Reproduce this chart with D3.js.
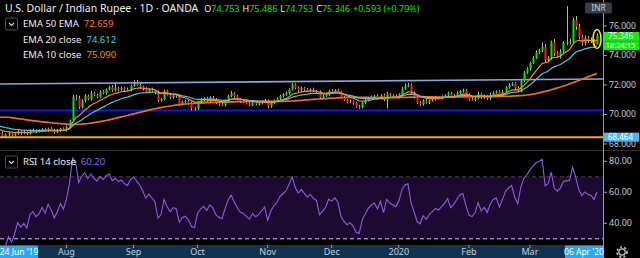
<!DOCTYPE html>
<html>
<head>
<meta charset="utf-8">
<script src="https://cdn.jsdelivr.net/npm/d3@7"></script>
<style>
  body { margin: 0; background: #000; }
  svg { display: block; }
</style>
</head>
<body>
<script>
// closes before the visible window, only used to warm up EMA / RSI
const history = [
  69.95, 69.90, 69.80, 69.85, 70.00, 70.15, 70.30, 70.40, 70.45, 70.30,
  70.10, 69.95, 70.05, 70.20, 70.10, 69.95, 69.85, 69.75, 69.90, 70.05,
  69.95, 69.80, 69.70, 69.75, 69.85, 69.90, 69.80, 69.65, 69.70, 69.80,
  69.65, 69.55, 69.50, 69.45, 69.40, 69.45, 69.40, 69.30, 69.35, 69.25
];

// daily closes from 24 Jun 2019
const closes = [
  69.20, 69.05, 68.95, 68.85, 68.80, 68.75, 68.70, 68.55, 68.65, 68.75,
  68.60, 68.70, 68.85, 68.75, 68.80, 68.70, 68.90, 68.95, 68.85, 68.90,
  69.00, 68.90, 69.05, 68.95, 68.80, 68.90, 69.05, 68.95, 69.15, 69.60,
  71.20, 71.10, 70.50, 70.95, 71.25, 71.05, 71.45, 71.30, 71.20, 71.55,
  71.45, 71.70, 71.85, 71.65, 71.80, 71.70, 71.80, 71.70, 71.65, 71.95,
  72.10, 72.00, 71.90, 71.75, 71.55, 71.70, 71.60, 71.50, 70.95, 71.05,
  71.60, 71.35, 71.15, 71.30, 71.25, 70.70, 70.85, 70.90, 70.75, 70.45,
  70.40, 70.85, 71.00, 71.10, 70.95, 71.15, 71.05, 70.80, 70.70, 70.65,
  70.95, 71.25, 71.45, 71.25, 71.05, 70.90, 70.85, 70.75, 70.65, 70.80,
  70.70, 70.75, 70.85, 70.95, 70.55, 70.80, 70.95, 71.05, 71.25, 71.35,
  71.45, 71.70, 72.05, 71.80, 71.65, 71.80, 71.70, 71.60, 71.70, 71.60,
  71.55, 71.15, 71.25, 71.35, 71.60, 71.55, 71.65, 71.55, 71.15, 70.98,
  70.85, 70.90, 70.78, 70.55, 70.50, 70.80, 70.95, 71.10, 71.20, 71.25,
  71.10, 71.30, 71.00, 71.40, 71.30, 71.25, 71.20, 71.35, 71.75, 71.95,
  72.00, 71.50, 71.20, 70.80, 70.70, 70.95, 70.80, 70.95, 71.05, 71.15,
  71.10, 71.20, 71.30, 71.45, 71.20, 71.30, 71.45, 71.60, 71.65, 71.35,
  71.05, 71.00, 71.10, 71.40, 71.15, 71.25, 71.10, 71.35, 71.50, 71.55,
  71.30, 71.55, 71.85, 72.00, 72.10, 71.80, 71.60, 72.30, 72.85, 73.10,
  73.50, 73.85, 74.20, 74.35, 74.60, 73.70, 73.85, 74.90, 74.15, 74.00,
  74.25, 74.85, 74.90, 74.95, 76.40, 75.95, 75.25, 74.85, 75.20, 75.05,
  75.00, 74.753, 75.346
];

// wick lengths above / below the body, in hundredths
const wickUp = [
  8, 6, 10, 5, 7, 9, 12, 15, 6, 8, 10, 5, 9, 7, 12, 6, 8, 10, 5, 9,
  7, 11, 6, 9, 8, 12, 5, 8, 10, 7, 12, 15, 18, 9, 14, 10, 16, 8, 11, 9,
  12, 8, 10, 14, 35, 9, 11, 7, 13, 8, 22, 25, 9, 6, 10, 7, 12, 8, 14, 6,
  10, 8, 12, 7, 9, 11, 6, 10, 8, 13, 7, 9, 12, 6, 10, 8, 11, 7, 9, 12,
  8, 10, 15, 7, 9, 6, 11, 8, 10, 7, 12, 6, 9, 10, 8, 13, 7, 11, 9, 10,
  12, 8, 10, 7, 9, 11, 6, 10, 8, 12, 7, 9, 10, 14, 8, 11, 7, 9, 6, 10,
  8, 12, 7, 9, 10, 6, 11, 8, 9, 7, 12, 8, 10, 14, 7, 9, 11, 8, 12, 16,
  15, 10, 7, 9, 11, 8, 10, 6, 9, 12, 7, 10, 8, 11, 9, 7, 12, 8, 10, 9,
  8, 11, 7, 12, 9, 10, 8, 11, 7, 9, 10, 12, 8, 15, 10, 9, 11, 8, 10, 12,
  9, 11, 14, 10, 30, 18, 12, 10, 22, 15, 20, 12, 245, 18, 15, 28, 20, 14, 16, 12,
  18, 12, 14
];
const wickDn = [
  6, 9, 7, 10, 8, 6, 12, 10, 8, 14, 7, 9, 6, 11, 8, 10, 7, 9, 12, 6,
  9, 7, 10, 8, 12, 6, 9, 7, 11, 8, 10, 14, 12, 9, 11, 8, 10, 7, 12, 9,
  8, 10, 7, 11, 9, 12, 8, 10, 7, 9, 8, 6, 10, 12, 8, 9, 7, 11, 10, 8,
  9, 7, 10, 8, 12, 9, 7, 10, 8, 18, 14, 9, 7, 10, 8, 11, 7, 9, 12, 8,
  10, 8, 7, 11, 9, 12, 8, 7, 10, 9, 8, 11, 7, 9, 14, 10, 8, 7, 9, 11,
  8, 10, 7, 9, 12, 8, 10, 7, 9, 8, 11, 10, 8, 7, 9, 10, 8, 11, 9, 7,
  10, 8, 12, 9, 11, 8, 10, 7, 9, 8, 10, 7, 9, 60, 8, 10, 7, 9, 11, 8,
  10, 9, 12, 8, 11, 10, 7, 9, 8, 10, 7, 9, 8, 11, 7, 9, 10, 8, 12, 9,
  11, 8, 10, 7, 9, 8, 11, 10, 7, 9, 10, 8, 9, 11, 8, 12, 10, 9, 8, 10,
  12, 9, 10, 11, 13, 20, 16, 14, 18, 15, 20, 12, 16, 14, 18, 22, 15, 20, 16, 18,
  15, 20, 0
];

const priceTicks = [68, 70, 72, 74, 76];
const rsiTicks = [40, 60, 80];
const rsiBand = [70, 30];
const flatLevels = [70.27, 68.464];       // blue level, orange level
const trendEnds = [72.06, 72.40];         // sloped light-blue line, first and last bar
const legendNames = ["EMA 50 EMA", "EMA 20 close", "EMA 10 close"];
const legendValues = ["72.659", "74.612", "75.090"];
const rsiValueText = "60.20";
const countdown = "18:24:15";
const rangeLabels = ["24 Jun '19", "06 Apr '20"];

const W = 640, H = 258, axisX = 603, paneBottom = 150, rsiBottom = 245;
const green = "#00e600", red = "#ff1a1a";

// bar dates: weekdays from the first session
const start = new Date(2019, 5, 24);
const dates = d3.timeDay.range(start, d3.timeDay.offset(start, 400))
  .filter(d => d.getDay() > 0 && d.getDay() < 6)
  .slice(0, closes.length);

const bars = closes.map((c, i) => {
  const o = i ? closes[i - 1] : history[history.length - 1];
  return {
    i, o, c,
    h: Math.max(o, c) + wickUp[i] / 100,
    l: Math.min(o, c) - wickDn[i] / 100
  };
});

const all = history.concat(closes);
function ema(src, n) {
  const k = 2 / (n + 1), out = [];
  let v = d3.mean(src.slice(0, n));
  src.forEach((s, i) => { if (i >= n) v = s * k + v * (1 - k); out.push(v); });
  return out;
}
function rsi(src, n) {
  const out = [];
  let ag = 0, al = 0;
  src.forEach((s, i) => {
    if (!i) { out.push(50); return; }
    const ch = s - src[i - 1], g = Math.max(ch, 0), l = Math.max(-ch, 0);
    if (i <= n) { ag += g / n; al += l / n; }
    else { ag = (ag * (n - 1) + g) / n; al = (al * (n - 1) + l) / n; }
    out.push(al === 0 ? 100 : 100 - 100 / (1 + ag / al));
  });
  return out;
}
const cut = a => a.slice(history.length);
const ema20full = ema(all, 20);
const ema20 = cut(ema20full), ema10 = cut(ema(all, 10));
const ema50 = cut(ema(ema20full, 50));      // "EMA 50 EMA": 50-period EMA taken on the EMA 20
const rsi14 = cut(rsi(all, 14));

const x = d3.scaleLinear().domain([0, closes.length - 1]).range([-18.9, 597]);
const y = d3.scaleLinear().domain([68, 76]).range([144, 26]);
const yr = d3.scaleLinear().domain([40, 80]).range([223.3, 161.3]);
const trend = d3.scaleLinear().domain([0, closes.length - 1]).range(trendEnds);

const svg = d3.select("body").append("svg")
  .attr("width", W).attr("height", H)
  .attr("font-family", "'Noto Sans', sans-serif");

svg.append("rect").attr("width", W).attr("height", H).attr("fill", "#000");

const defs = svg.append("defs");
defs.append("clipPath").attr("id", "pricePane")
  .append("rect").attr("width", axisX).attr("height", paneBottom);
defs.append("clipPath").attr("id", "rsiPane")
  .append("rect").attr("y", paneBottom).attr("width", axisX).attr("height", rsiBottom - paneBottom);
defs.append("clipPath").attr("id", "priceAxis")
  .append("rect").attr("x", axisX).attr("width", W - axisX).attr("height", paneBottom);

// ---------- price pane ----------
const pane = svg.append("g").attr("clip-path", "url(#pricePane)");

pane.append("line")
  .attr("x1", 0).attr("x2", axisX)
  .attr("y1", y(trend(x.invert(0)))).attr("y2", y(trend(x.invert(axisX))))
  .attr("stroke", "#7fa8e6").attr("stroke-width", 1.6);

pane.selectAll("line.level")
  .data(flatLevels)
  .join("line")
  .attr("class", "level")
  .attr("x1", 0).attr("x2", axisX)
  .attr("y1", d => y(d)).attr("y2", d => y(d))
  .attr("stroke", (d, i) => i ? "#f7a823" : "#1414f0")
  .attr("stroke-width", 2);

const line = d3.line().x((d, i) => x(i)).y(d => y(d));
pane.append("path").datum(ema50).attr("d", line)
  .attr("fill", "none").attr("stroke", "#f26a1b").attr("stroke-width", 1.7);

pane.append("g")
  .selectAll("line")
  .data(bars)
  .join("line")
  .attr("x1", d => Math.round(x(d.i)) + 0.5).attr("x2", d => Math.round(x(d.i)) + 0.5)
  .attr("y1", d => y(d.h)).attr("y2", d => y(d.l))
  .attr("stroke", "#b4b4b4").attr("stroke-width", 1);

pane.append("g")
  .selectAll("rect")
  .data(bars)
  .join("rect")
  .attr("x", d => Math.round(x(d.i)) - 0.5)
  .attr("width", 2)
  .attr("y", d => y(Math.max(d.o, d.c)))
  .attr("height", d => Math.max(1, Math.abs(y(d.o) - y(d.c))))
  .attr("fill", d => d.c >= d.o ? green : red);

pane.append("path").datum(ema20).attr("d", line)
  .attr("fill", "none").attr("stroke", "#46c9dd").attr("stroke-width", 1.2);
pane.append("path").datum(ema10).attr("d", line)
  .attr("fill", "none").attr("stroke", "#ff8a1c").attr("stroke-width", 1.2);

// marker round the last bar
const last = bars[bars.length - 1];
pane.append("ellipse")
  .attr("cx", x(last.i)).attr("cy", y((last.h + last.l) / 2))
  .attr("rx", 4).attr("ry", 9.5)
  .attr("fill", "none").attr("stroke", "#f5f500").attr("stroke-width", 1.5);

// ---------- rsi pane ----------
const rp = svg.append("g").attr("clip-path", "url(#rsiPane)");
rp.append("rect")
  .attr("x", 0).attr("width", axisX)
  .attr("y", yr(rsiBand[0])).attr("height", yr(rsiBand[1]) - yr(rsiBand[0]))
  .attr("fill", "#1c0a30");
rp.selectAll("line.band")
  .data(rsiBand)
  .join("line")
  .attr("class", "band")
  .attr("x1", 0).attr("x2", axisX)
  .attr("y1", d => yr(d)).attr("y2", d => yr(d))
  .attr("stroke", (d, i) => i ? "#d6ccf2" : "#4a3d5c")
  .attr("stroke-dasharray", "4,3");
rp.append("path").datum(rsi14)
  .attr("d", d3.line().x((d, i) => x(i)).y(d => yr(d)))
  .attr("fill", "none").attr("stroke", "#8c5ce6").attr("stroke-width", 1.1);

// separators
svg.append("line").attr("x1", 0).attr("x2", W).attr("y1", paneBottom + 0.5).attr("y2", paneBottom + 0.5)
  .attr("stroke", "#2f323b");
svg.append("line").attr("x1", axisX + 0.5).attr("x2", axisX + 0.5).attr("y1", 0).attr("y2", H)
  .attr("stroke", "#9a9ca3");

// ---------- price axis ----------
const pa = svg.append("g").attr("clip-path", "url(#priceAxis)")
  .attr("font-size", 8.6).attr("fill", "#c6c8cf");
pa.selectAll("text")
  .data(priceTicks)
  .join("text")
  .attr("x", 609).attr("y", d => y(d)).attr("dy", "0.3em")
  .text(d => d3.format(".3f")(d));
pa.selectAll("line")
  .data(priceTicks)
  .join("line")
  .attr("x1", axisX).attr("x2", axisX + 4)
  .attr("y1", d => y(d)).attr("y2", d => y(d))
  .attr("stroke", "#9a9ca3");

function tag(yc, text, bg, fg, size) {
  svg.append("rect").attr("x", axisX + 1).attr("y", yc - 4.5).attr("width", 35).attr("height", 9).attr("fill", bg);
  svg.append("text").attr("x", 620.5).attr("y", yc).attr("dy", "0.35em").attr("text-anchor", "middle")
    .attr("font-size", size).attr("fill", fg).text(text);
}
tag(y(last.c) + 0.8, d3.format(".3f")(last.c), "#18e818", "#eaffea", 8);
tag(y(last.c) + 10, countdown, "#18e818", "#eaffea", 7.4);
tag(y(flatLevels[1]), d3.format(".3f")(flatLevels[1]), "#45b7f5", "#fff", 8);

// currency button
svg.append("rect").attr("x", 585).attr("y", 2.5).attr("width", 27).attr("height", 11).attr("rx", 2)
  .attr("fill", "#3a3d46");
svg.append("text").attr("x", 598.5).attr("y", 8).attr("dy", "0.35em").attr("text-anchor", "middle")
  .attr("font-size", 8.5).attr("fill", "#c8cad0").text("INR");

// ---------- rsi axis ----------
svg.append("g").attr("font-size", 9).attr("fill", "#c6c8cf")
  .selectAll("text")
  .data(rsiTicks)
  .join("text")
  .attr("x", 609).attr("y", d => yr(d)).attr("dy", "0.35em")
  .text(d => d3.format(".2f")(d));
svg.append("g").selectAll("line")
  .data(rsiTicks)
  .join("line")
  .attr("x1", axisX).attr("x2", axisX + 4)
  .attr("y1", d => yr(d)).attr("y2", d => yr(d))
  .attr("stroke", "#9a9ca3");

// ---------- time axis ----------
svg.append("rect").attr("x", 0).attr("y", rsiBottom).attr("width", axisX).attr("height", H - rsiBottom)
  .attr("fill", "#0f3350");
const monthStarts = dates.map((d, i) => i)
  .filter(i => i > 0 && dates[i].getMonth() !== dates[i - 1].getMonth() && x(i) > 40 && x(i) < 555);
const ta = svg.append("g").attr("font-size", 9).attr("fill", "#c8ccd6");
ta.selectAll("line")
  .data(monthStarts)
  .join("line")
  .attr("x1", i => x(i)).attr("x2", i => x(i))
  .attr("y1", rsiBottom).attr("y2", rsiBottom + 3)
  .attr("stroke", "#9aa4b2");
ta.selectAll("text")
  .data(monthStarts)
  .join("text")
  .attr("x", i => x(i)).attr("y", 255).attr("text-anchor", "middle")
  .text(i => dates[i].getMonth() === 0 ? d3.timeFormat("%Y")(dates[i]) : d3.timeFormat("%b")(dates[i]));

[[0, rangeLabels[0]], [565, rangeLabels[1]]].forEach(([bx, t]) => {
  svg.append("rect").attr("x", bx).attr("y", rsiBottom + 0.5).attr("width", 38).attr("height", H - rsiBottom)
    .attr("fill", "#2ba8ef");
  svg.append("text").attr("x", bx + 19).attr("y", 255).attr("text-anchor", "middle")
    .attr("font-size", 8.5).attr("fill", "#fff").text(t);
});

// gear
const gear = svg.append("g").attr("transform", "translate(622,252)")
  .attr("fill", "none").attr("stroke", "#c8c8c8");
gear.append("circle").attr("r", 3.2).attr("stroke-width", 1.2);
gear.append("circle").attr("r", 5).attr("stroke-width", 1.6).attr("stroke-dasharray", "2,2.2");

// ---------- legends ----------
const fmt3 = d3.format(".3f");
const chg = last.c - last.o;
const head = svg.append("text").attr("x", 5).attr("y", 8.5).attr("dy", "0.35em").attr("font-size", 10.5);
head.append("tspan").attr("fill", "#eceef2").text("U.S. Dollar / Indian Rupee · 1D · OANDA");
head.append("tspan").attr("dx", 6).attr("font-size", 9).attr("fill", "#eceef2").text("O");
head.append("tspan").attr("font-size", 9).attr("fill", green).text(fmt3(last.o));
[["H", last.h], ["L", last.l], ["C", last.c]].forEach(([k, v]) => {
  head.append("tspan").attr("dx", 3).attr("font-size", 9).attr("fill", "#eceef2").text(k);
  head.append("tspan").attr("font-size", 9).attr("fill", green).text(fmt3(v));
});
head.append("tspan").attr("dx", 3).attr("font-size", 9).attr("fill", green)
  .text(`+${fmt3(chg)} (+${d3.format(".2f")(chg / last.o * 100)}%)`);

function dropBox(yc) {
  svg.append("rect").attr("x", 5.5).attr("y", yc - 6).attr("width", 12).attr("height", 12).attr("rx", 1)
    .attr("fill", "none").attr("stroke", "#4a4e59");
  svg.append("path").attr("d", `M9,${yc - 1}l2.5,2.5l2.5,-2.5`)
    .attr("fill", "none").attr("stroke", "#d6d8dd").attr("stroke-width", 1.1);
}
dropBox(24);
dropBox(162);

const legendColors = ["#ff7a1a", "#3ccfe0", "#ff8a1c"];
legendNames.forEach((n, i) => {
  const t = svg.append("text").attr("x", 23).attr("y", 24 + i * 15.2).attr("dy", "0.35em").attr("font-size", 9.5);
  t.append("tspan").attr("fill", "#eceef2").text(n);
  t.append("tspan").attr("dx", 5).attr("fill", legendColors[i]).text(legendValues[i]);
});
const rt = svg.append("text").attr("x", 23).attr("y", 162).attr("dy", "0.35em").attr("font-size", 9.5);
rt.append("tspan").attr("fill", "#eceef2").text("RSI 14 close");
rt.append("tspan").attr("dx", 5).attr("fill", "#9a66e8").text(rsiValueText);
</script>
</body>
</html>
